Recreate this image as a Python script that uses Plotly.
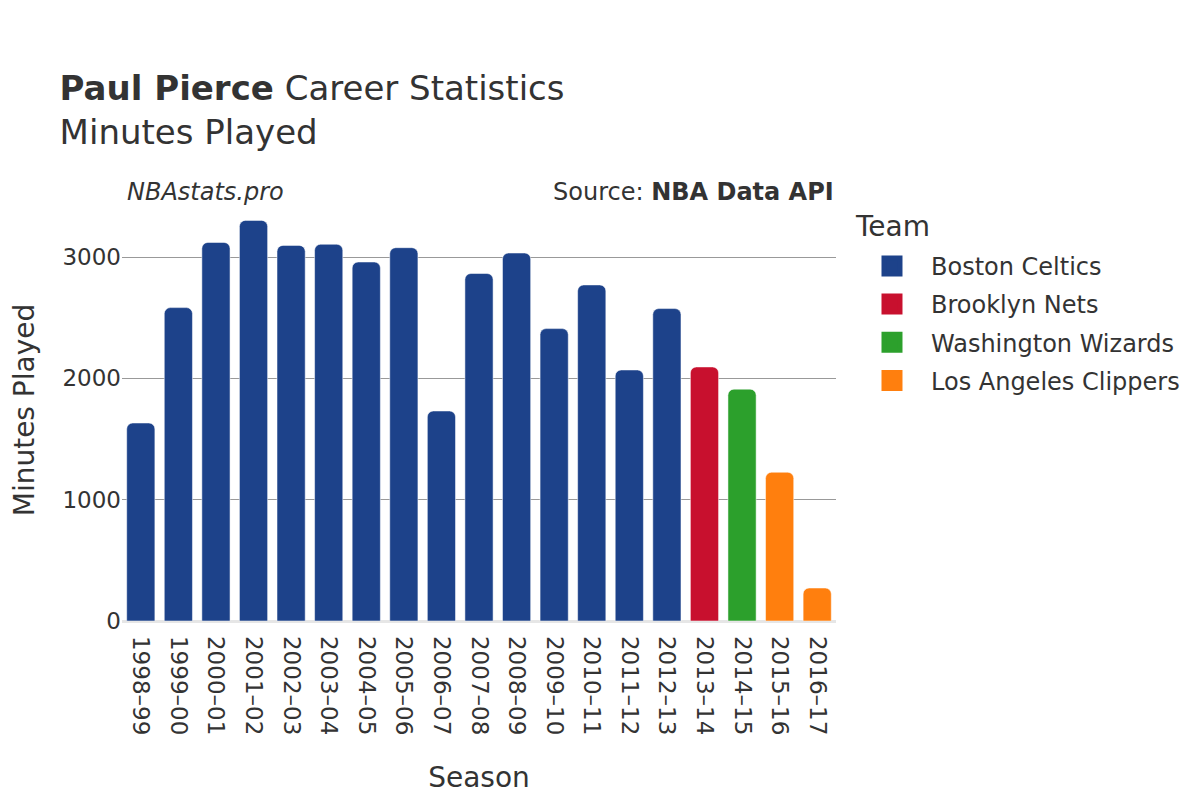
import plotly.graph_objects as go

seasons = ["1998–99", "1999–00", "2000–01", "2001–02", "2002–03", "2003–04", "2004–05",
           "2005–06", "2006–07", "2007–08", "2008–09", "2009–10", "2010–11", "2011–12",
           "2012–13", "2013–14", "2014–15", "2015–16", "2016–17"]
teams = ["Boston Celtics"] * 15 + ["Brooklyn Nets", "Washington Wizards",
                                   "Los Angeles Clippers", "Los Angeles Clippers"]
minutes = [1632, 2583, 3120, 3302, 3096, 3105, 2959, 3077, 1731, 2864, 3033, 2410, 2770,
           2069, 2575, 2094, 1911, 1226, 272]

team_order = ["Boston Celtics", "Brooklyn Nets", "Washington Wizards", "Los Angeles Clippers"]
team_colors = {"Boston Celtics": "#1d428a", "Brooklyn Nets": "#c8102e",
               "Washington Wizards": "#2ca02c", "Los Angeles Clippers": "#ff7f0e"}

fig = go.Figure()
for t in team_order:
    xs = [s for s, tt in zip(seasons, teams) if tt == t]
    ys = [m for m, tt in zip(minutes, teams) if tt == t]
    fig.add_trace(go.Bar(x=xs, y=ys, name=t, legendgroup=t, showlegend=False,
                         marker=dict(color=team_colors[t],
                                     line=dict(color="rgba(255,255,255,0.5)", width=1))))
    # legend entry with a larger swatch
    fig.add_trace(go.Scatter(x=[None], y=[None], mode="markers", name=t, legendgroup=t,
                             marker=dict(symbol="square", size=16, color=team_colors[t],
                                         line=dict(color=team_colors[t], width=5))))

fig.update_layout(
    width=1200, height=800,
    font=dict(family="DejaVu Sans", color="#333333", size=23),
    plot_bgcolor="white", paper_bgcolor="white",
    barmode="relative", bargap=0.25, barcornerradius=6,
    margin=dict(l=114, r=372, t=192, b=187),
    title=dict(text="<b>Paul Pierce</b> Career Statistics<br>Minutes Played",
               x=0.043, xanchor="left", y=0.885, yanchor="top",
               font=dict(size=34, color="#333333")),
    legend=dict(x=1.0238, xanchor="left", y=0.896, yanchor="top",
                font=dict(size=24), itemwidth=68, tracegroupgap=4),
    xaxis=dict(categoryorder="array", categoryarray=seasons, tickangle=90,
               title=dict(text="Season", font=dict(size=28), standoff=33),
               showgrid=False, tickfont=dict(size=23), automargin=False,
               ticklabelstandoff=14),
    yaxis=dict(showgrid=True, automargin=False,
               gridcolor="#999999", gridwidth=1, zeroline=True, zerolinecolor="#e6e6e6",
               zerolinewidth=3, tickfont=dict(size=23), tickvals=[0, 1000, 2000, 3000],
               range=[0, 3470]),
    annotations=[
        dict(text="Minutes Played", xref="paper", yref="paper", x=-0.137, y=0.501,
             xanchor="center", yanchor="middle", textangle=-90, showarrow=False,
             font=dict(size=28)),
        dict(text="<i>NBAstats.pro</i>", xref="paper", yref="paper", x=0.0042, y=1.02,
             xanchor="left", yanchor="middle", showarrow=False, font=dict(size=24)),
        dict(text="Source: <b>NBA Data API</b>", xref="paper", yref="paper", x=1.0,
             y=1.02, xanchor="right", yanchor="middle", showarrow=False,
             font=dict(size=24)),
        dict(text="Team", xref="paper", yref="paper", x=1.0238, y=0.938,
             xanchor="left", yanchor="middle", showarrow=False, font=dict(size=28)),
    ],
)

fig.write_html("out.html")
